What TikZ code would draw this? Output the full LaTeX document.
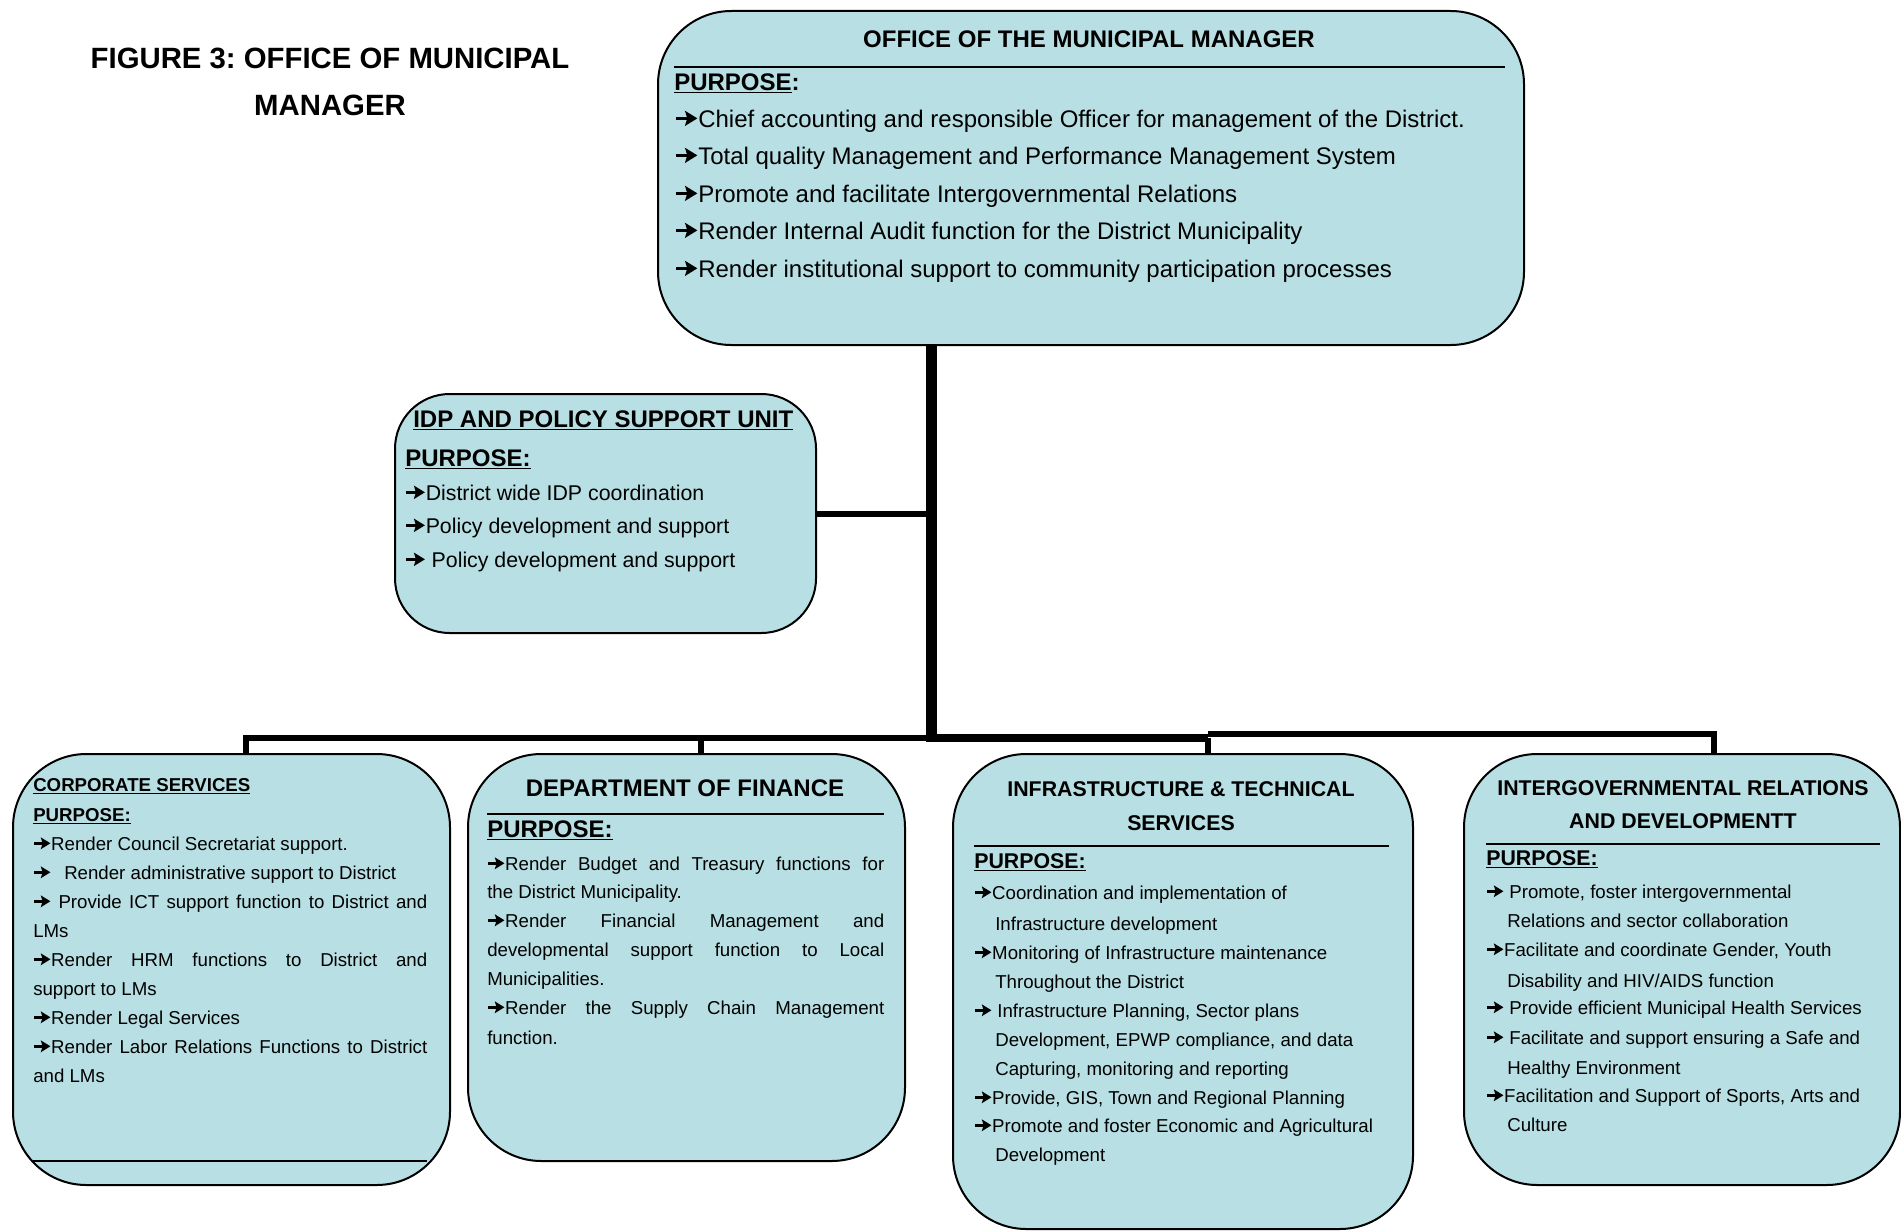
\documentclass[tikz,border=0pt]{standalone}
\usepackage{fontspec}
\setmainfont{Liberation Sans}
\frenchspacing
\newcommand\arw{\tikz[baseline=0pt,x=1em,y=1em]{\fill (0.03,0.29) rectangle (0.6,0.43); \fill (0.40,0.04) -- (0.92,0.36) -- (0.40,0.68) -- (0.50,0.36) -- cycle; \path (0,0) (0.96,0);}}
\newcommand\ulpurp{\underline{PURPOSE:}}
\definecolor{boxfill}{RGB}{184,223,227}
\begin{document}
\begin{tikzpicture}[x=0.75pt,y=-0.75pt,
  box/.style={draw=black, line width=1.5pt, fill=boxfill, rounded corners=#1, inner sep=0pt, anchor=north west},
  box/.default=55pt,
  tl/.style={inner sep=0pt, anchor=base west},
  tc/.style={inner sep=0pt, anchor=base},
  fcap/.style={font=\fontsize{22}{26}\selectfont\bfseries},
  fxl/.style={font=\fontsize{18}{22}\selectfont},
  fxlb/.style={font=\fontsize{18}{22}\selectfont\bfseries},
  flg/.style={font=\fontsize{16}{20}\selectfont},
  flgb/.style={font=\fontsize{16}{20}\selectfont\bfseries},
  fmd/.style={font=\fontsize{14}{17}\selectfont},
  fmdb/.style={font=\fontsize{14}{17}\selectfont\bfseries},
  rule/.style={line width=1.5pt},
  trunk/.style={line width=8.25pt},
  conn/.style={line width=4.5pt},
  connthick/.style={line width=6.5pt}
]
\useasboundingbox (0,0) rectangle (1901,1231);
\fill[white] (0,0) rectangle (1901,1231);

% caption
\node[tc,fcap] (cap1) at (330,68.5) {FIGURE 3: OFFICE OF MUNICIPAL};
\node[tc,fcap] (cap2) at (330,115.5) {MANAGER};

% boxes
\node[box, minimum width=649.5pt, minimum height=250.5pt] (omm) at (657,10) {};
\node[box=41pt, minimum width=315.75pt, minimum height=179.25pt] (idp) at (394,393) {};
\node[box, minimum width=327.75pt, minimum height=323.25pt] (corp) at (12,753) {};
\node[box, minimum width=327.75pt, minimum height=305.25pt] (fin) at (467,753) {};
\node[box, minimum width=345pt, minimum height=356.25pt] (infra) at (952,753) {};
\node[box, minimum width=327pt, minimum height=323.25pt] (igr) at (1463,753) {};

% connectors
\coordinate (bus) at (931,738);
\coordinate (dcorp) at (246,738);
\coordinate (dfin) at (701,738);
\coordinate (dinf) at (1208,738);
\coordinate (digr) at (1714,734);
\draw[conn] (idp.east) -- (idp.east -| bus);
\draw[conn] (dcorp |- corp.north) -- (dcorp) -- (bus);
\draw[conn] (dfin) -- (dfin |- fin.north);
\draw[connthick] (bus) -- (dinf);
\draw[conn] (dinf) -- (dinf |- infra.north);
\draw[conn] (dinf |- digr) -- (digr) -- (digr |- igr.north);
\draw[trunk] (omm.south -| bus) -- ([yshift=-3pt]bus);

% OMM
\node[tc,fxlb] (omm-t) at (1089,47.5) {OFFICE OF THE MUNICIPAL MANAGER};
\draw[rule] (674,67) -- (1505,67);
\node[tl,fxlb] (omm-p) at (674,90) {\underline{PURPOSE}:};
\node[tl,fxl] (omm-1) at (675,127) {\arw Chief accounting and responsible Officer for management of the District.};
\node[tl,fxl] (omm-2) at (675,164) {\arw Total quality Management and Performance Management System};
\node[tl,fxl] (omm-3) at (675,202) {\arw Promote and facilitate Intergovernmental Relations};
\node[tl,fxl] (omm-4) at (675,239) {\arw Render Internal Audit function for the District Municipality};
\node[tl,fxl] (omm-5) at (675,277) {\arw Render institutional support to community participation processes};

% IDP
\node[tl,fxlb] (idp-t) at (413,427) {\underline{IDP AND POLICY SUPPORT UNIT}};
\node[tl,fxlb] (idp-p) at (405,466) {\ulpurp};
\node[tl,flg] (idp-1) at (405,500) {\arw District wide IDP coordination};
\node[tl,flg] (idp-2) at (405,533) {\arw Policy development and support};
\node[tl,flg] (idp-3) at (405,567) {\arw\ Policy development and support};

% Corporate
\node[tl,fmdb] (corp-t) at (33,791) {\underline{CORPORATE SERVICES}};
\node[tl,fmdb] (corp-p) at (33,821) {\ulpurp};
\node[tl,fmd] (corp-1) at (33,850) {\arw Render Council Secretariat support.};
\node[tl,fmd] (corp-2) at (33,879) {\arw\hspace{0.7em}Render administrative support to District};
\node[tl,fmd] (corp-3) at (33,908) {\makebox[295.5pt][s]{\arw\ Provide ICT support function to District and}};
\node[tl,fmd] (corp-4) at (33,937) {LMs};
\node[tl,fmd] (corp-5) at (33,966) {\makebox[295.5pt][s]{\arw Render HRM functions to District and}};
\node[tl,fmd] (corp-6) at (33,995) {support to LMs};
\node[tl,fmd] (corp-7) at (33,1024) {\arw Render Legal Services};
\node[tl,fmd] (corp-8) at (33,1053) {\makebox[295.5pt][s]{\arw Render Labor Relations Functions to District}};
\node[tl,fmd] (corp-9) at (33,1082) {and LMs};
\draw[rule] (33,1161) -- (427,1161);

% Finance
\node[tc,fxlb] (fin-t) at (685,796) {DEPARTMENT OF FINANCE};
\draw[rule] (487,813.5) -- (884,813.5);
\node[tl,fxlb] (fin-p) at (487,837) {\ulpurp};
\node[tl,fmd] (fin-1) at (487,870) {\makebox[297.75pt][s]{\arw Render Budget and Treasury functions for}};
\node[tl,fmd] (fin-2) at (487,898) {the District Municipality.};
\node[tl,fmd] (fin-3) at (487,927) {\makebox[297.75pt][s]{\arw Render Financial Management and}};
\node[tl,fmd] (fin-4) at (487,956) {\makebox[297.75pt][s]{developmental support function to Local}};
\node[tl,fmd] (fin-5) at (487,985) {Municipalities.};
\node[tl,fmd] (fin-6) at (487,1014) {\makebox[297.75pt][s]{\arw Render the Supply Chain Management}};
\node[tl,fmd] (fin-7) at (487,1044) {function.};

% Infrastructure
\node[tc,flgb] (inf-t1) at (1181,796) {INFRASTRUCTURE \& TECHNICAL};
\node[tc,flgb] (inf-t2) at (1181,830) {SERVICES};
\draw[rule] (974,846) -- (1389,846);
\node[tl,flgb] (inf-p) at (974,868) {\ulpurp};
\node[tl,fmd] (inf-1) at (974,899) {\arw Coordination and implementation of};
\node[tl,fmd] (inf-2) at (995,930) {Infrastructure development};
\node[tl,fmd] (inf-3) at (974,959) {\arw Monitoring of Infrastructure maintenance};
\node[tl,fmd] (inf-4) at (995,988) {Throughout the District};
\node[tl,fmd] (inf-5) at (974,1017) {\arw\ Infrastructure Planning, Sector plans};
\node[tl,fmd] (inf-6) at (995,1046) {Development, EPWP compliance, and data};
\node[tl,fmd] (inf-7) at (995,1075) {Capturing, monitoring and reporting};
\node[tl,fmd] (inf-8) at (974,1104) {\arw Provide, GIS, Town and Regional Planning};
\node[tl,fmd] (inf-9) at (974,1132) {\arw Promote and foster Economic and Agricultural};
\node[tl,fmd] (inf-10) at (995,1161) {Development};

% Intergovernmental
\node[tc,flgb] (igr-t1) at (1683,795) {INTERGOVERNMENTAL RELATIONS};
\node[tc,flgb] (igr-t2) at (1683,828) {AND DEVELOPMENTT};
\draw[rule] (1486,844) -- (1880,844);
\node[tl,flgb] (igr-p) at (1486,865) {\ulpurp};
\node[tl,fmd] (igr-1) at (1486,898) {\arw\ Promote, foster intergovernmental};
\node[tl,fmd] (igr-2) at (1507,927) {Relations and sector collaboration};
\node[tl,fmd] (igr-3) at (1486,956) {\arw Facilitate and coordinate Gender, Youth};
\node[tl,fmd] (igr-4) at (1507,987) {Disability and HIV/AIDS function};
\node[tl,fmd] (igr-5) at (1486,1014) {\arw\ Provide efficient Municipal Health Services};
\node[tl,fmd] (igr-6) at (1486,1044) {\arw\ Facilitate and support ensuring a Safe and};
\node[tl,fmd] (igr-7) at (1507,1074) {Healthy Environment};
\node[tl,fmd] (igr-8) at (1486,1102) {\arw Facilitation and Support of Sports, Arts and};
\node[tl,fmd] (igr-9) at (1507,1131) {Culture};
\end{tikzpicture}
\end{document}
